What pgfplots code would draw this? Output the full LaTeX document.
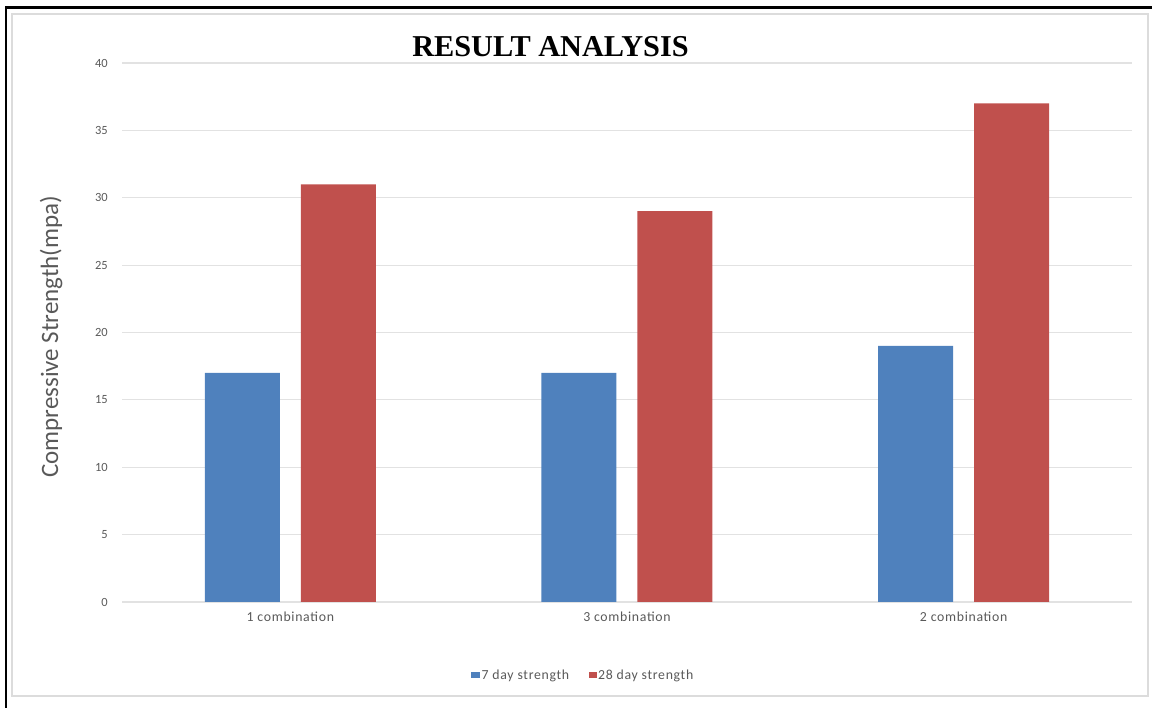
\documentclass[border=0pt]{standalone}
\usepackage{fontspec}
\setmainfont{Carlito}
\newfontfamily\spacedfont[LetterSpace=5]{Carlito}
\newfontfamily\titlefont{Liberation Serif}
\usepackage{pgfplots}
\pgfplotsset{compat=1.18}

\definecolor{barblue}{HTML}{4F81BD}
\definecolor{barred}{HTML}{C0504D}
\definecolor{gridgray}{HTML}{E2E2E2}
\definecolor{textgray}{HTML}{595959}
\definecolor{framegray}{HTML}{DCDCDC}

\begin{document}
\begin{tikzpicture}[x=1pt,y=1pt]
\path[use as bounding box] (0,0) rectangle (1152,708);
% chart area and outer frame
\draw[framegray, line width=1.5pt] (12,12) rectangle (1148,694);
\draw[black, line width=2.5pt] (6,0) -- (6,700.5) -- (1152,700.5);

\begin{axis}[
  at={(122pt,106pt)}, anchor=south west,
  scale only axis, width=1010pt, height=539pt,
  ybar, bar width=75pt,
  xmin=-0.5, xmax=2.5, ymin=0, ymax=40,
  xtick={0,1,2},
  xticklabels={1 combination, 3 combination, 2 combination},
  ytick={0,5,...,40},
  ymajorgrids,
  major grid style={gridgray, line width=1.2pt},
  axis line style={draw=none},
  major tick length=0pt,
  tick label style={text=textgray},
  /pgf/number format/assume math mode=true,
  yticklabel style={font=\fontsize{12.5}{14}\selectfont, anchor=east, inner sep=0pt, xshift=-14pt},
  xticklabel style={font=\spacedfont\fontsize{13.8}{15}\selectfont, anchor=base, inner sep=0pt, yshift=-20pt},
  legend columns=2,
  legend style={at={(0.4564,-0.1354)}, anchor=center, draw=none, fill=none,
    font=\spacedfont\fontsize{13.8}{15}\selectfont, text=textgray,
    /tikz/every even column/.append style={column sep=18pt},
    inner sep=0pt, nodes={inner sep=1.5pt}},
]
\addplot[fill=barblue, draw=none, bar shift=-48pt,
  legend image code/.code={\fill[barblue] (0pt,-3pt) rectangle (9pt,3pt);}]
  coordinates {(0,17) (1,17) (2,19)};
\addplot[fill=barred, draw=none, bar shift=48pt,
  legend image code/.code={\fill[barred] (0pt,-3pt) rectangle (8pt,3pt);}]
  coordinates {(0,31) (1,29) (2,37)};
\legend{7 day strength, 28 day strength}
\end{axis}

\node[anchor=base, font=\titlefont\bfseries\fontsize{30.3}{32}\selectfont]
  at (550.5,651) {RESULT ANALYSIS};
\node[rotate=90, anchor=base, font=\fontsize{25}{28}\selectfont, text=textgray]
  at (58,371) {Compressive Strength(mpa)};
\end{tikzpicture}
\end{document}
